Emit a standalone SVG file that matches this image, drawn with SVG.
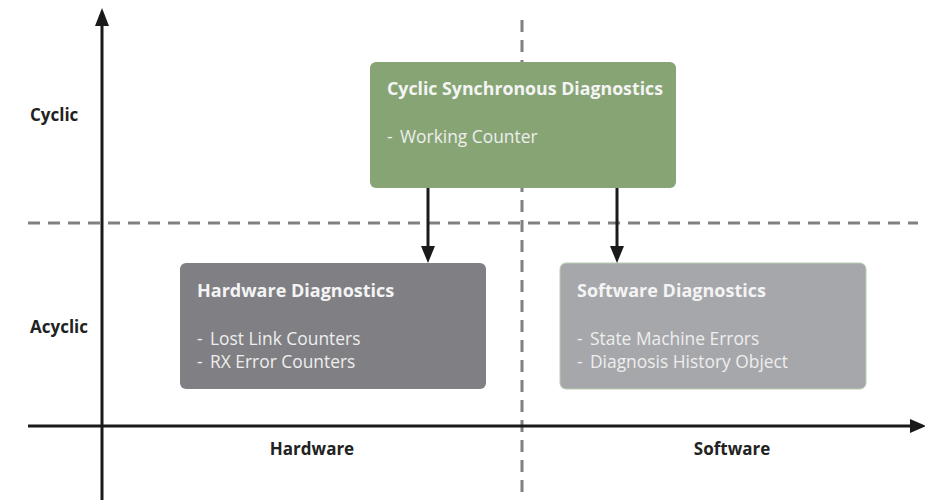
<svg xmlns="http://www.w3.org/2000/svg" width="925" height="500" viewBox="0 0 925 500">
<style>
.t{font-family:"Open Sans","Noto Sans",sans-serif;font-weight:bold;font-size:18px;fill:#f4f4f4}
.i{font-family:"Open Sans","Noto Sans",sans-serif;font-size:17.4px;fill:#eeeeee}
.lab{font-family:"Open Sans","Noto Sans",sans-serif;font-weight:bold;font-size:17px;fill:#222}
.dash{stroke:#808080;stroke-width:3;stroke-dasharray:12 8;fill:none}
.ax{stroke:#1a1a1a;stroke-width:3;fill:none}
.ar{stroke:#1a1a1a;stroke-width:3;fill:none}
.hd{fill:#1a1a1a}
</style>
<rect width="925" height="500" fill="#fff"/>
<g id="grid">
<line class="dash" x1="28" y1="223" x2="918" y2="223"/>
<line class="dash" x1="522" y1="20" x2="522" y2="500"/>
</g>
<g id="axes">
<line class="ax" x1="102" y1="500" x2="102" y2="24"/>
<path class="hd" d="M95,26 L109,26 L102,8 Z"/>
<line class="ax" x1="28" y1="426" x2="912" y2="426"/>
<path class="hd" d="M910,419 L910,433 L926,426 Z"/>
</g>
<g id="labels">
<text class="lab" x="30" y="121">Cyclic</text>
<text class="lab" x="30" y="333">Acyclic</text>
<text class="lab" x="312" y="455" text-anchor="middle">Hardware</text>
<text class="lab" x="732" y="455" text-anchor="middle">Software</text>
</g>
<g id="cyclic">
<rect x="370" y="62" width="306" height="126" rx="6" fill="#87a574"/>
<text class="t" x="387" y="95" textLength="276" lengthAdjust="spacingAndGlyphs">Cyclic Synchronous Diagnostics</text>
<text class="i" y="143"><tspan x="387">-</tspan><tspan x="400">Working Counter</tspan></text>
</g>
<g id="hardware">
<rect x="180" y="263" width="306" height="126" rx="6" fill="#808084"/>
<text class="t" x="197" y="297">Hardware Diagnostics</text>
<text class="i" y="345"><tspan x="197">-</tspan><tspan x="210">Lost Link Counters</tspan></text>
<text class="i" y="368"><tspan x="197">-</tspan><tspan x="210">RX Error Counters</tspan></text>
</g>
<g id="software">
<rect x="560" y="263" width="306" height="126" rx="6" fill="#a6a7ab" stroke="#b9cdb0" stroke-width="1"/>
<text class="t" x="577" y="297">Software Diagnostics</text>
<text class="i" y="345"><tspan x="577">-</tspan><tspan x="590">State Machine Errors</tspan></text>
<text class="i" y="368"><tspan x="577">-</tspan><tspan x="590">Diagnosis History Object</tspan></text>
</g>
<g id="connectors">
<line class="ar" x1="428" y1="188" x2="428" y2="248"/>
<path class="hd" d="M421,246 L435,246 L428,263 Z"/>
<line class="ar" x1="617" y1="188" x2="617" y2="248"/>
<path class="hd" d="M610,246 L624,246 L617,263 Z"/>
</g>
</svg>
